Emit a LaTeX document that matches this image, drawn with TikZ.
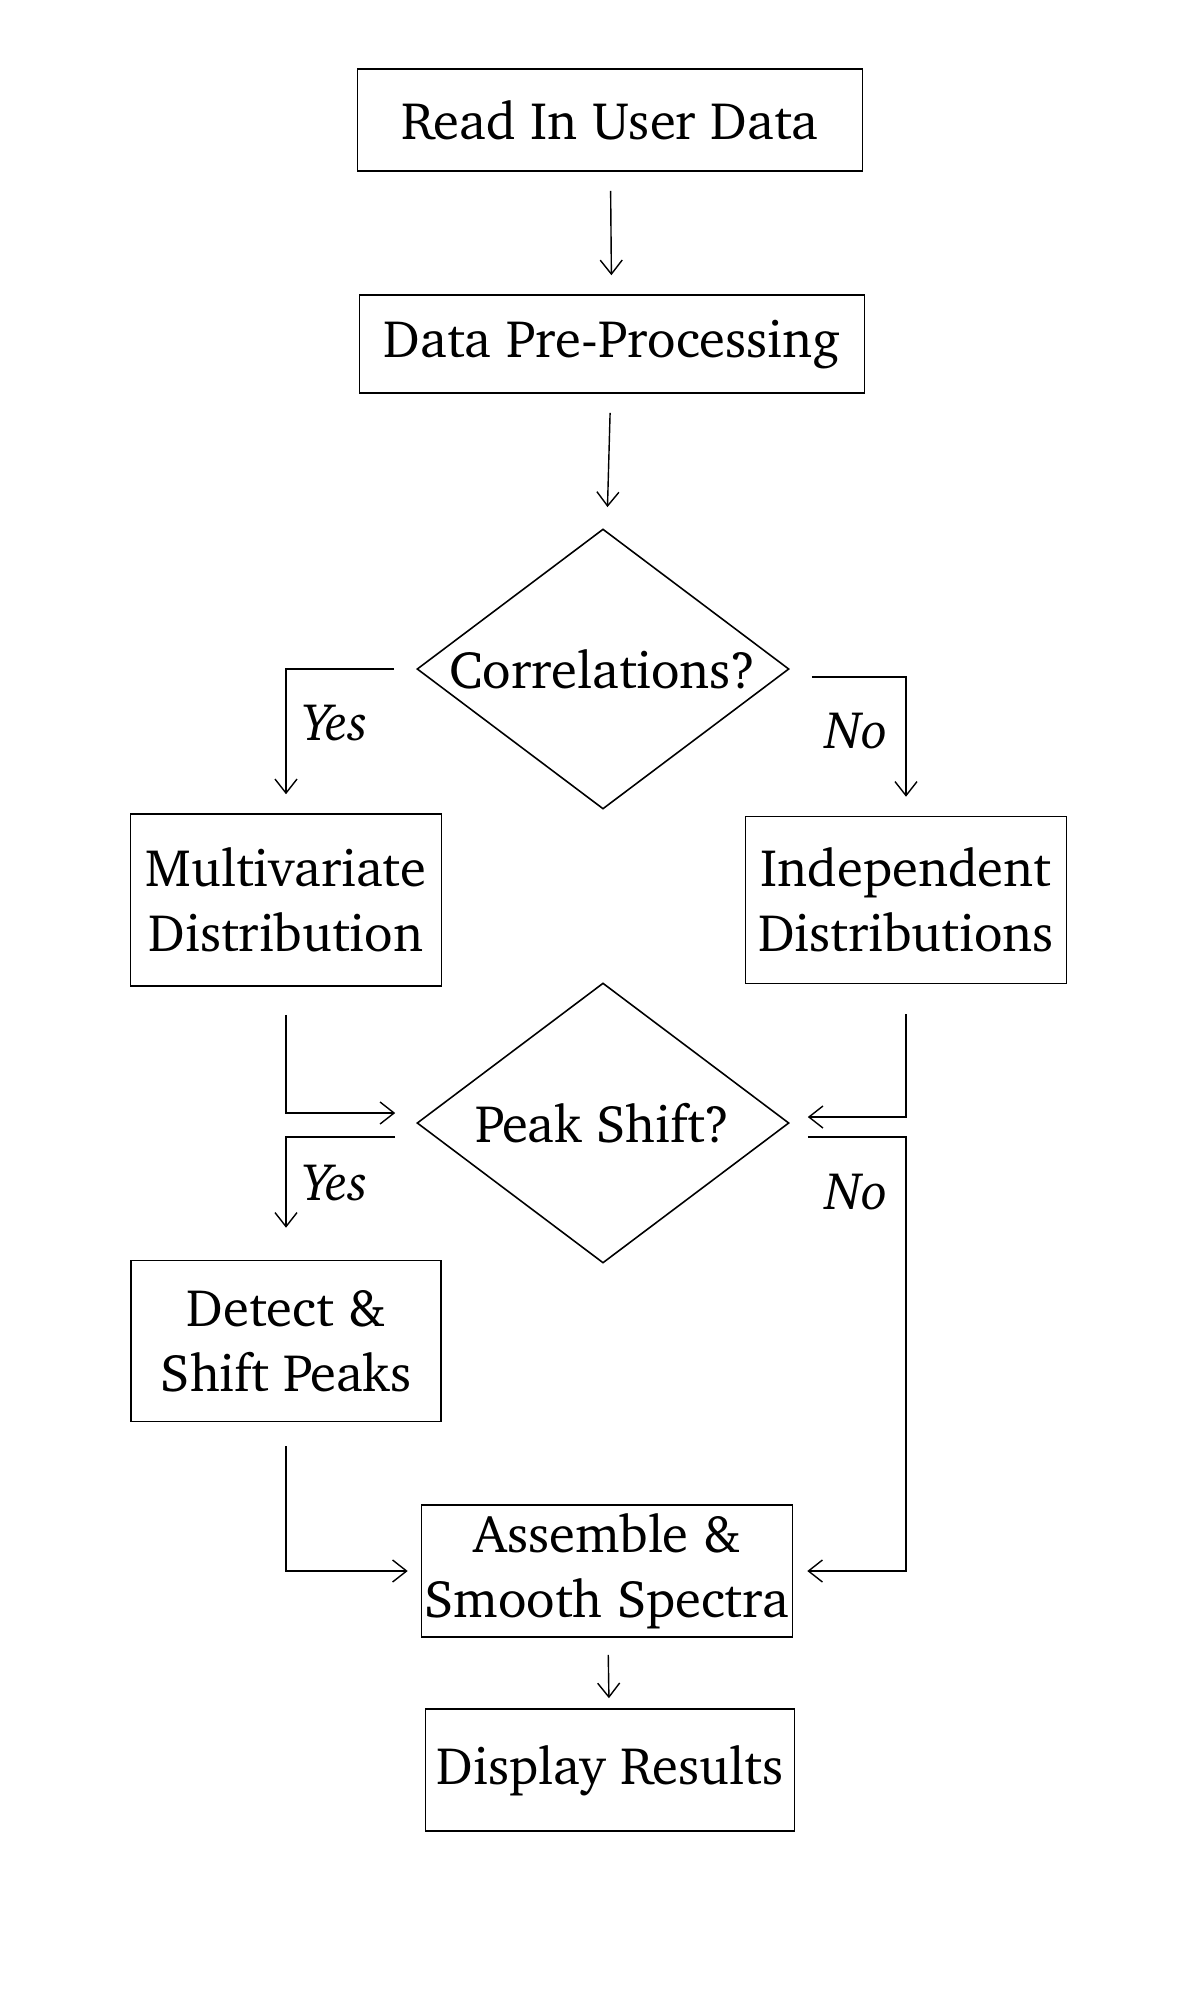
\documentclass[tikz,border=0pt]{standalone}
\usepackage[T1]{fontenc}
\usepackage{charter}
\usetikzlibrary{shapes.geometric,arrows.meta}

\begin{document}
\begin{tikzpicture}[
    box/.style={
        draw=black,
        line width=0.45pt,
        minimum width=#1,
        align=center,
        inner sep=0pt,
        font=\fontsize{15}{18.5}\selectfont
    },
    decision/.style={
        draw=black,
        diamond,
        line width=0.45pt,
        minimum width=3.72cm,
        minimum height=2.8cm,
        inner sep=-0.5cm,
        font=\fontsize{15}{18.5}\selectfont
    },
    lbl/.style={
        font=\fontsize{15}{18.5}\selectfont\itshape
    },
    arr/.style={
        -{Straight Barb[length=1.4mm,width=2.2mm]},
        line width=0.4pt,
        shorten <=0.19cm,
        shorten >=0.19cm
    }
]
\useasboundingbox (0,0) rectangle (12,-20);

% ---------------- Input ----------------
\node[box=5.05cm, minimum height=1.02cm] (read) at (6.10,-1.20) {Read In User Data};
\node[box=5.05cm, minimum height=0.98cm] (prep) at (6.12,-3.44) {Data Pre-Processing};

\draw[arr] (read) -- (prep);

% ---------------- First decision ----------------
\node[decision] (corr) at (6.03,-6.69) {Correlations?};

\draw[arr, shorten >=0.24cm] (prep) -- (corr);

\node[box=3.11cm, minimum height=1.72cm] (multi) at (2.86,-9.00) {Multivariate\\Distribution};
\node[box=3.21cm, minimum height=1.67cm] (indep) at (9.06,-9.00) {Independent\\Distributions};

\draw[arr, shorten <=0.22cm] (corr.west) -| (multi.north);
\draw[arr, shorten <=0.22cm] ([yshift=-0.08cm]corr.east) -| (indep.north);

\node[lbl] (yes1) at (3.35,-7.23) {Yes};
\node[lbl] (no1) at (8.57,-7.31) {No};

% ---------------- Second decision ----------------
\node[decision] (peak) at (6.03,-11.23) {Peak Shift?};

\draw[arr, shorten <=0.28cm, shorten >=0.21cm] (multi.south) |- ([yshift=0.10cm]peak.west);
\draw[arr, shorten <=0.30cm, shorten >=0.18cm] (indep.south) |- ([yshift=0.06cm]peak.east);

\node[box=3.10cm, minimum height=1.61cm] (detect) at (2.86,-13.41) {Detect \&\\Shift Peaks};

\draw[arr, shorten <=0.21cm, shorten >=0.32cm] ([yshift=-0.14cm]peak.west) -| (detect.north);

\node[lbl] (yes2) at (3.35,-11.83) {Yes};
\node[lbl] (no2) at (8.57,-11.92) {No};

% ---------------- Output ----------------
\node[box=3.71cm, minimum height=1.32cm] (assemble) at (6.07,-15.71) {Assemble \&\\Smooth Spectra};
\node[box=3.69cm, minimum height=1.22cm] (display) at (6.10,-17.70) {Display Results};

\draw[arr, shorten <=0.24cm, shorten >=0.13cm] (detect.south) |- (assemble.west);
\draw[arr, shorten <=0.18cm, shorten >=0.14cm] ([yshift=-0.14cm]peak.east) -| (indep.south |- assemble.east) -- (assemble.east);
\draw[arr, shorten <=0.17cm, shorten >=0.10cm] (assemble) -- (display);

\end{tikzpicture}
\end{document}
